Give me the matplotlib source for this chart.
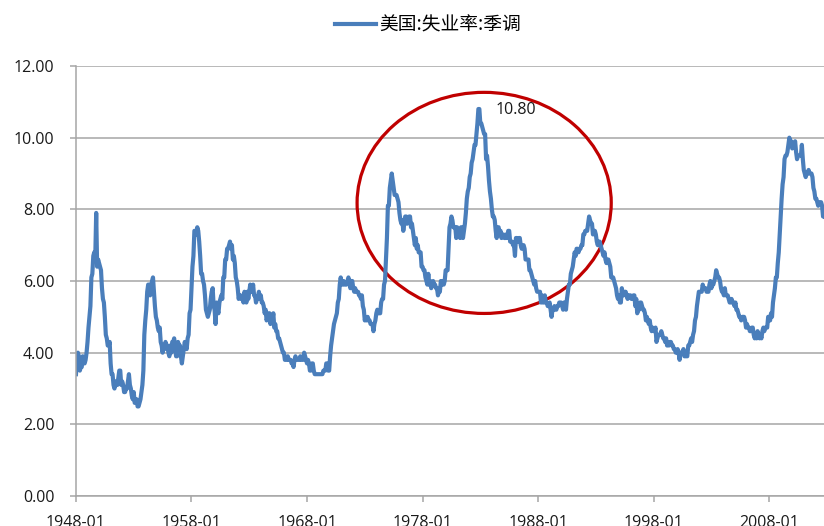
import matplotlib.pyplot as plt
from matplotlib.patches import Ellipse
from matplotlib.ticker import FormatStrFormatter
import numpy as np
import pandas as pd

plt.rcParams['font.family'] = ['Open Sans', 'Noto Sans CJK SC', 'DejaVu Sans']

series_name = '美国:失业率:季调'
start = '1948-01'

# 月度失业率(%), 每行一年
unrate = [
    3.4, 3.8, 4.0, 3.9, 3.5, 3.6, 3.6, 3.9, 3.8, 3.7, 3.8, 4.0,   # 1948
    4.3, 4.7, 5.0, 5.3, 6.1, 6.2, 6.7, 6.8, 6.6, 7.9, 6.4, 6.6,   # 1949
    6.5, 6.4, 6.3, 5.8, 5.5, 5.4, 5.0, 4.5, 4.4, 4.2, 4.2, 4.3,   # 1950
    3.7, 3.4, 3.4, 3.1, 3.0, 3.2, 3.1, 3.1, 3.3, 3.5, 3.5, 3.1,   # 1951
    3.2, 3.1, 2.9, 2.9, 3.0, 3.0, 3.2, 3.4, 3.1, 3.0, 2.8, 2.7,   # 1952
    2.9, 2.6, 2.6, 2.7, 2.5, 2.5, 2.6, 2.7, 2.9, 3.1, 3.5, 4.5,   # 1953
    4.9, 5.2, 5.7, 5.9, 5.9, 5.6, 5.8, 6.0, 6.1, 5.7, 5.3, 5.0,   # 1954
    4.9, 4.7, 4.6, 4.7, 4.3, 4.2, 4.0, 4.2, 4.1, 4.3, 4.2, 4.2,   # 1955
    4.0, 3.9, 4.2, 4.0, 4.3, 4.3, 4.4, 4.1, 3.9, 3.9, 4.3, 4.2,   # 1956
    4.2, 3.9, 3.7, 3.9, 4.1, 4.3, 4.2, 4.1, 4.4, 4.5, 5.1, 5.2,   # 1957
    5.8, 6.4, 6.7, 7.4, 7.4, 7.3, 7.5, 7.4, 7.1, 6.7, 6.2, 6.2,   # 1958
    6.0, 5.9, 5.6, 5.2, 5.1, 5.0, 5.1, 5.2, 5.5, 5.7, 5.8, 5.3,   # 1959
    5.2, 4.8, 5.4, 5.2, 5.1, 5.4, 5.5, 5.6, 5.5, 6.1, 6.1, 6.6,   # 1960
    6.6, 6.9, 6.9, 7.0, 7.1, 6.9, 7.0, 6.6, 6.7, 6.5, 6.1, 6.0,   # 1961
    5.8, 5.5, 5.6, 5.6, 5.5, 5.5, 5.4, 5.7, 5.6, 5.4, 5.7, 5.5,   # 1962
    5.7, 5.9, 5.7, 5.7, 5.9, 5.6, 5.6, 5.4, 5.5, 5.5, 5.7, 5.5,   # 1963
    5.6, 5.4, 5.4, 5.3, 5.1, 5.2, 4.9, 5.0, 5.1, 5.1, 4.8, 5.0,   # 1964
    4.9, 5.1, 4.7, 4.8, 4.6, 4.6, 4.4, 4.4, 4.3, 4.2, 4.1, 4.0,   # 1965
    4.0, 3.8, 3.8, 3.8, 3.9, 3.8, 3.8, 3.8, 3.7, 3.7, 3.6, 3.8,   # 1966
    3.9, 3.8, 3.8, 3.8, 3.8, 3.9, 3.8, 3.8, 3.8, 4.0, 3.9, 3.8,   # 1967
    3.7, 3.8, 3.7, 3.5, 3.5, 3.7, 3.7, 3.5, 3.4, 3.4, 3.4, 3.4,   # 1968
    3.4, 3.4, 3.4, 3.4, 3.4, 3.5, 3.5, 3.5, 3.7, 3.7, 3.5, 3.5,   # 1969
    3.9, 4.2, 4.4, 4.6, 4.8, 4.9, 5.0, 5.1, 5.4, 5.5, 5.9, 6.1,   # 1970
    5.9, 5.9, 6.0, 5.9, 5.9, 5.9, 6.0, 6.1, 6.0, 5.8, 6.0, 6.0,   # 1971
    5.8, 5.7, 5.8, 5.7, 5.7, 5.7, 5.6, 5.6, 5.5, 5.6, 5.3, 5.2,   # 1972
    4.9, 5.0, 4.9, 5.0, 4.9, 4.9, 4.8, 4.8, 4.8, 4.6, 4.8, 4.9,   # 1973
    5.1, 5.2, 5.1, 5.1, 5.1, 5.4, 5.5, 5.5, 5.9, 6.0, 6.6, 7.2,   # 1974
    8.1, 8.1, 8.6, 8.8, 9.0, 8.8, 8.6, 8.4, 8.4, 8.4, 8.3, 8.2,   # 1975
    7.9, 7.7, 7.6, 7.7, 7.4, 7.6, 7.8, 7.8, 7.6, 7.7, 7.8, 7.8,   # 1976
    7.5, 7.6, 7.4, 7.2, 7.0, 7.2, 6.9, 7.0, 6.8, 6.8, 6.8, 6.4,   # 1977
    6.4, 6.3, 6.3, 6.1, 6.0, 5.9, 6.2, 5.9, 6.0, 5.8, 5.9, 6.0,   # 1978
    5.9, 5.9, 5.8, 5.8, 5.6, 5.7, 5.7, 6.0, 5.9, 6.0, 5.9, 6.0,   # 1979
    6.3, 6.3, 6.3, 6.9, 7.5, 7.6, 7.8, 7.7, 7.5, 7.5, 7.5, 7.2,   # 1980
    7.5, 7.4, 7.4, 7.2, 7.5, 7.5, 7.2, 7.4, 7.6, 7.9, 8.3, 8.5,   # 1981
    8.6, 8.9, 9.0, 9.3, 9.4, 9.6, 9.8, 9.8, 10.1, 10.4, 10.8, 10.8,  # 1982
    10.4, 10.4, 10.3, 10.2, 10.1, 10.1, 9.4, 9.5, 9.2, 8.8, 8.5, 8.3,  # 1983
    8.0, 7.8, 7.8, 7.7, 7.4, 7.2, 7.5, 7.5, 7.3, 7.4, 7.2, 7.3,   # 1984
    7.3, 7.2, 7.2, 7.3, 7.2, 7.4, 7.4, 7.1, 7.1, 7.1, 7.0, 7.0,   # 1985
    6.7, 7.2, 7.2, 7.1, 7.2, 7.2, 7.0, 6.9, 7.0, 7.0, 6.9, 6.6,   # 1986
    6.6, 6.6, 6.6, 6.3, 6.3, 6.2, 6.1, 6.0, 5.9, 6.0, 5.8, 5.7,   # 1987
    5.7, 5.7, 5.7, 5.4, 5.6, 5.4, 5.4, 5.6, 5.4, 5.4, 5.3, 5.3,   # 1988
    5.4, 5.2, 5.0, 5.2, 5.2, 5.3, 5.2, 5.2, 5.3, 5.3, 5.4, 5.4,   # 1989
    5.4, 5.3, 5.2, 5.4, 5.4, 5.2, 5.5, 5.7, 5.9, 5.9, 6.2, 6.3,   # 1990
    6.4, 6.6, 6.8, 6.7, 6.9, 6.9, 6.8, 6.9, 6.9, 7.0, 7.0, 7.3,   # 1991
    7.3, 7.4, 7.4, 7.4, 7.6, 7.8, 7.7, 7.6, 7.6, 7.3, 7.4, 7.4,   # 1992
    7.3, 7.1, 7.0, 7.1, 7.1, 7.0, 6.9, 6.8, 6.7, 6.8, 6.6, 6.5,   # 1993
    6.6, 6.6, 6.5, 6.4, 6.1, 6.1, 6.1, 6.0, 5.9, 5.8, 5.6, 5.5,   # 1994
    5.6, 5.4, 5.4, 5.8, 5.6, 5.6, 5.7, 5.7, 5.6, 5.5, 5.6, 5.6,   # 1995
    5.6, 5.5, 5.5, 5.6, 5.6, 5.3, 5.5, 5.1, 5.2, 5.2, 5.4, 5.4,   # 1996
    5.3, 5.2, 5.2, 5.1, 4.9, 5.0, 4.9, 4.8, 4.9, 4.7, 4.6, 4.7,   # 1997
    4.6, 4.6, 4.7, 4.3, 4.4, 4.5, 4.5, 4.5, 4.6, 4.5, 4.4, 4.4,   # 1998
    4.3, 4.4, 4.2, 4.3, 4.2, 4.3, 4.3, 4.2, 4.2, 4.1, 4.1, 4.0,   # 1999
    4.0, 4.1, 4.0, 3.8, 4.0, 4.0, 4.0, 4.1, 3.9, 3.9, 3.9, 3.9,   # 2000
    4.2, 4.2, 4.3, 4.4, 4.3, 4.5, 4.6, 4.9, 5.0, 5.3, 5.5, 5.7,   # 2001
    5.7, 5.7, 5.7, 5.9, 5.8, 5.8, 5.8, 5.7, 5.7, 5.7, 5.9, 6.0,   # 2002
    5.8, 5.9, 5.9, 6.0, 6.1, 6.3, 6.2, 6.1, 6.1, 6.0, 5.8, 5.7,   # 2003
    5.7, 5.6, 5.8, 5.6, 5.6, 5.6, 5.5, 5.4, 5.4, 5.5, 5.4, 5.4,   # 2004
    5.3, 5.4, 5.2, 5.2, 5.1, 5.0, 5.0, 4.9, 5.0, 5.0, 5.0, 4.9,   # 2005
    4.7, 4.8, 4.7, 4.7, 4.6, 4.6, 4.7, 4.7, 4.5, 4.4, 4.5, 4.4,   # 2006
    4.6, 4.5, 4.4, 4.5, 4.4, 4.6, 4.7, 4.6, 4.7, 4.7, 4.7, 5.0,   # 2007
    5.0, 4.9, 5.1, 5.0, 5.4, 5.6, 5.8, 6.1, 6.1, 6.5, 6.8, 7.3,   # 2008
    7.8, 8.3, 8.7, 8.9, 9.4, 9.5, 9.5, 9.6, 9.8, 10.0, 9.9, 9.9,  # 2009
    9.7, 9.8, 9.8, 9.9, 9.6, 9.4, 9.5, 9.5, 9.5, 9.5, 9.8, 9.4,   # 2010
    9.1, 9.0, 8.9, 9.0, 9.0, 9.1, 9.0, 9.0, 9.0, 8.9, 8.6, 8.5,   # 2011
    8.3, 8.3, 8.2, 8.1, 8.2, 8.2, 8.2, 8.1, 7.8, 7.9, 7.8, 7.8,   # 2012
    7.9, 7.7, 7.6,                                                # 2013
]

tick_labels = ['1948-01', '1958-01', '1968-01', '1978-01',
               '1988-01', '1998-01', '2008-01']

months = list(pd.period_range(start, periods=len(unrate), freq='M').strftime('%Y-%m'))
x = np.arange(len(unrate))
tick_pos = [months.index(t) for t in tick_labels]

peak_idx = int(np.argmax(unrate))
peak = unrate[peak_idx]

fig = plt.figure(figsize=(8.24, 5.26), dpi=100)
ax = fig.add_axes([0.0922, 0.057, 0.9078, 0.8175])

line, = ax.plot(x, unrate, color='#4a7ebb', lw=3.0, solid_joinstyle='round',
                label=series_name)

ax.set_xlim(0, 777)
ax.set_ylim(0, 12)
ax.set_yticks(np.arange(0, 12.01, 2))
ax.yaxis.set_major_formatter(FormatStrFormatter('%.2f'))
ax.set_xticks(tick_pos, tick_labels)

ax.grid(axis='y', color='#a6a6a6', lw=1.1)
ax.set_axisbelow(True)
for s in ['top', 'right']:
    ax.spines[s].set_visible(False)
for s in ['left', 'bottom']:
    ax.spines[s].set_color('#a6a6a6')
    ax.spines[s].set_linewidth(1.1)

ax.tick_params(axis='y', length=4.5, width=1.1, color='#a6a6a6', pad=11,
               labelsize=11.5, labelcolor='#1a1a1a')
ax.tick_params(axis='x', length=4.5, width=1.1, color='#a6a6a6', pad=9,
               labelsize=11.5, labelcolor='#1a1a1a')

# 标注1982年的峰值, 并圈出70-80年代的高失业区间
ax.annotate(f'{peak:.2f}', xy=(peak_idx, peak), xytext=(12, -1),
            textcoords='offset points', ha='left', va='center',
            fontsize=11.5, color='#1a1a1a')
ax.add_patch(Ellipse((424, 8.18), width=264, height=6.17, fill=False,
                     edgecolor='#c00000', lw=2.3, clip_on=False))

fig.legend(handles=[line], loc='center', bbox_to_anchor=(428 / 824, 1 - 25 / 526),
           frameon=False, handlelength=2.2, handletextpad=0.2,
           prop={'family': ['Noto Sans CJK SC', 'DejaVu Sans'], 'size': 13.5})

fig.savefig('out.png', dpi=100)
